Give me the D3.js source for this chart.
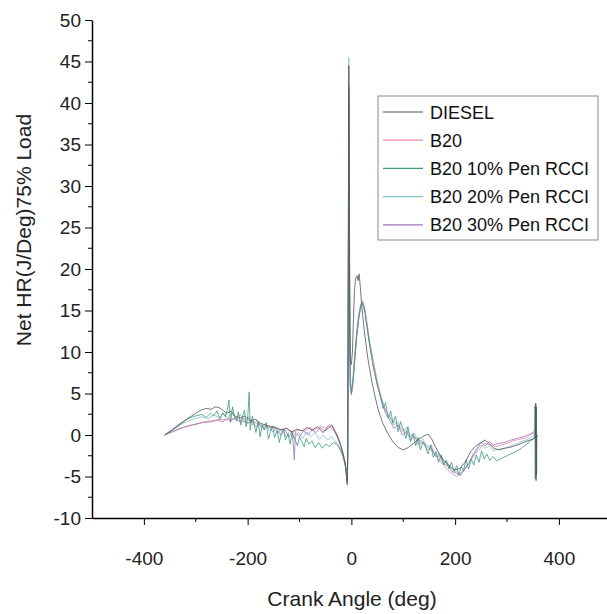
<!DOCTYPE html>
<html>
<head>
<meta charset="utf-8">
<script src="https://cdn.jsdelivr.net/npm/d3@7"></script>
<style>
  body { margin: 0; background: #fff; }
  svg { font-family: "Liberation Sans", Arial, sans-serif; }
</style>
</head>
<body>
<div id="chart"></div>
<script>
// series names and colours (legend order)
const seriesNames = ['DIESEL', 'B20', 'B20 10% Pen RCCI', 'B20 20% Pen RCCI', 'B20 30% Pen RCCI'];
const seriesColors = ['#555555', '#e58aa8', '#3f9a80', '#86c0cc', '#a46fbf'];

const xTicks = [-400, -200, 0, 200, 400];
const yTicks = [-10, -5, 0, 5, 10, 15, 20, 25, 30, 35, 40, 45, 50];

// [crank angle, net heat release]
const diesel = [
  [-360,0],[-345,0.6],[-330,1.3],[-315,2.0],[-300,2.6],[-290,3.0],[-280,3.2],[-270,3.1],[-262,3.4],[-255,3.3],
  [-248,3.0],[-240,2.6],[-232,2.9],[-225,2.3],[-215,2.0],[-205,2.3],[-195,1.7],[-185,1.9],[-175,1.4],[-165,1.2],
  [-155,1.0],[-145,0.9],[-135,0.6],[-125,0.8],[-115,0.4],[-105,0.7],[-95,0.5],[-85,0.9],[-75,0.6],[-65,1.0],
  [-55,0.3],[-45,0.8],[-38,1.2],[-32,0.5],[-26,-0.4],[-20,-1.4],[-15,-2.6],[-11,-3.8],[-8,-6.0],[-7,-2],
  [-6,20],[-5,44.5],[-4,32],[-3,14],[-2,9],[0,8.5],[2,10],[4,14],[6,17.5],[8,18.8],[11,19.2],[13,18.6],
  [15,19.4],[17,18],[20,15.5],[25,12.5],[30,10],[35,8],[40,6.3],[45,4.8],[52,3],[60,1.5],[70,0.2],[80,-0.8],
  [90,-1.5],[100,-1.8],[110,-1.5],[120,-1.0],[130,-0.5],[140,-0.1],[148,0.1],[155,-0.5],[162,-1.4],[170,-2.4],
  [180,-3.2],[190,-3.8],[200,-4.2],[210,-4.0],[220,-3.2],[230,-2.0],[240,-1.3],[250,-0.9],[258,-0.6],[265,-1.0],
  [275,-1.6],[285,-1.8],[295,-1.6],[305,-1.5],[315,-1.3],[325,-1.1],[335,-0.8],[345,-0.6],[353,-0.4],[355,-0.2],
  [355.5,3.8],[356,-5.5],[356.5,3.4],[357,-4.8],[357.5,0],[358,-0.2]
];

const b20 = [
  [-360,0],[-340,0.5],[-320,1.0],[-300,1.3],[-285,1.6],[-270,1.7],[-255,1.9],[-240,1.8],[-228,2.0],[-215,1.7],
  [-200,1.5],[-188,1.6],[-175,1.2],[-162,1.0],[-150,0.9],[-138,0.6],[-126,0.8],[-114,0.3],[-102,0.6],[-90,0.5],
  [-80,0.9],[-70,0.6],[-60,1.1],[-50,0.8],[-42,1.3],[-35,0.9],[-28,0.2],[-22,-0.8],[-16,-2.2],[-12,-3.3],
  [-9,-5.2],[-7,-4],[-6,15],[-5,38],[-4,25],[-3,12],[-2,6],[0,4.8],[3,6],[6,8.5],[10,11.5],[14,13.8],
  [18,15.5],[22,16],[26,15],[30,13.5],[36,11],[42,9],[50,6.5],[58,4.5],[66,3],[75,2],[85,1.5],[95,0.8],
  [105,0.5],[115,0],[125,-0.4],[135,-0.8],[145,-1.2],[155,-1.8],[165,-2.6],[175,-3.4],[185,-4.2],[195,-4.7],
  [203,-5.0],[210,-4.6],[218,-4.2],[228,-3.2],[238,-2.4],[248,-1.6],[258,-1.0],[268,-1.2],[278,-1.4],[290,-1.2],
  [300,-1.0],[312,-0.7],[325,-0.5],[338,-0.3],[350,0.2],[358,0]
];

const pen10 = [
  [-360,0],[-345,0.7],[-330,1.4],[-315,2.0],[-300,2.3],[-288,2.5],[-280,2.1],[-272,2.6],[-266,2.3],[-259,2.9],
  [-253,1.9],[-248,2.7],[-243,2.2],[-239,3.1],[-236,4.2],[-233,1.5],[-229,3.4],[-226,2.4],[-221,1.7],[-218,2.8],
  [-213,1.2],[-210,2.2],[-206,3.0],[-203,1.0],[-200,1.9],[-197,5.2],[-195,0.6],[-191,2.3],[-187,1.1],[-184,0.3],
  [-180,1.6],[-176,-0.2],[-172,1.2],[-168,0.6],[-164,1.5],[-160,-0.5],[-156,0.4],[-152,1.1],[-148,-0.3],[-143,0.5],
  [-139,-0.9],[-135,0.2],[-131,0.7],[-127,-0.6],[-122,0.1],[-118,-1.1],[-114,0.3],[-109,-0.5],[-104,-1.3],[-100,-0.2],
  [-96,-0.8],[-91,-1.4],[-87,-0.4],[-82,-1.1],[-76,-0.7],[-70,-1.5],[-63,-0.9],[-56,-1.6],[-49,-1.1],[-42,-1.4],
  [-35,-0.9],[-28,-1.1],[-21,-1.8],[-15,-2.8],[-11,-4.0],[-8,-5.5],[-7,-2],[-6,14],[-5,38],[-4.5,42],
  [-4,26],[-3,10],[-2,6],[0,5],[3,6.5],[6,9],[10,12],[14,14.2],[18,15.6],[22,15.8],[26,14.8],[30,13],[36,10.5],
  [42,8.3],[50,6],[56,4.6],[61,3.2],[66,3.9],[71,2.0],[76,2.9],[80,1.4],[85,2.3],[90,0.4],[95,1.6],[100,0.7],
  [105,-0.4],[109,1.0],[114,-0.8],[119,0.2],[124,-1.3],[129,-0.3],[133,-1.8],[138,-0.9],[143,-1.4],[148,-2.3],
  [153,-1.2],[158,-2.7],[163,-2.0],[168,-3.3],[173,-2.4],[178,-3.6],[183,-3.0],[188,-4.1],[193,-3.3],[198,-4.4],
  [203,-3.7],[207,-4.8],[212,-3.8],[216,-4.3],[221,-3.0],[226,-4.1],[231,-2.9],[236,-3.6],[241,-2.4],[246,-3.3],
  [251,-1.9],[256,-2.9],[261,-2.3],[267,-3.1],[273,-2.6],[280,-3.1],[290,-2.8],[300,-2.5],[310,-2.2],[320,-1.9],
  [330,-1.5],[340,-1.0],[348,-0.6],[353,-0.4],[354,3.5],[354.5,-5.3],[355,3.8],[355.5,-5.0],[356,0],[358,-0.2]
];

const pen20 = [
  [-360,0],[-345,0.6],[-330,1.2],[-315,1.7],[-300,2.0],[-288,2.2],[-276,2.0],[-265,2.4],[-255,2.1],[-246,2.6],
  [-238,2.0],[-230,2.7],[-222,1.8],[-214,2.5],[-206,1.5],[-198,2.2],[-190,1.2],[-182,1.8],[-174,0.8],[-166,1.4],
  [-158,0.5],[-150,1.1],[-142,0.2],[-134,0.8],[-126,-0.2],[-118,0.6],[-110,-0.5],[-102,0.3],[-94,-0.4],[-86,0.4],
  [-78,-0.2],[-70,0.3],[-62,-0.5],[-54,0],[-46,-0.6],[-38,-0.2],[-30,-0.8],[-22,-1.5],[-16,-2.5],[-11,-3.8],
  [-8,-5.8],[-7,-3],[-6,18],[-5,45.5],[-4,30],[-3,13],[-2,7],[0,5.5],[3,6.8],[6,9.2],[10,12.3],[14,14.4],
  [18,15.8],[22,16.2],[26,15.2],[30,13.4],[36,10.8],[42,8.6],[50,6.2],[58,4.3],[66,2.9],[74,2.2],[82,1.2],
  [90,1.6],[98,0.4],[106,0.9],[114,-0.2],[122,0.2],[130,-0.9],[138,-0.5],[146,-1.5],[154,-1.2],[162,-2.4],
  [170,-2.2],[178,-3.2],[186,-3.4],[194,-4.2],[202,-4.4],[210,-4.8],[218,-4.0],[226,-3.4],[234,-2.6],[242,-1.8],
  [250,-1.2],[258,-1.6],[266,-1.3],[274,-1.9],[284,-1.7],[296,-1.6],[308,-1.3],[320,-1.0],[332,-0.7],[344,-0.4],
  [352,-0.1],[358,0]
];

const pen30 = [
  [-360,0],[-345,0.4],[-330,0.8],[-315,1.1],[-300,1.3],[-285,1.5],[-270,1.6],[-258,1.8],[-248,1.6],[-240,2.0],
  [-232,1.7],[-224,2.1],[-216,1.6],[-208,2.0],[-200,1.4],[-192,1.7],[-184,1.0],[-176,1.4],[-168,0.7],[-160,1.1],
  [-152,0.4],[-144,0.8],[-136,0],[-128,0.6],[-120,-0.2],[-114,0.5],[-110,-3.0],[-108,0.3],[-100,-0.2],[-92,0.5],
  [-84,0],[-76,0.6],[-68,0.3],[-60,0.9],[-52,0.5],[-44,1.1],[-36,0.7],[-28,0],[-22,-0.9],[-16,-2.3],[-11,-3.6],
  [-8,-5.6],[-7,-3],[-6,16],[-5,41],[-4,27],[-3,11],[-2,6],[0,5],[3,6.3],[6,8.8],[10,11.8],[14,14],[18,15.4],
  [22,15.9],[26,15],[30,13.2],[36,10.6],[42,8.4],[50,6],[58,4.2],[66,2.6],[74,1.8],[82,0.8],[90,1.2],[98,0],
  [106,0.4],[114,-0.6],[122,-0.2],[130,-1.2],[138,-0.8],[146,-1.8],[154,-1.5],[162,-2.6],[170,-2.5],[178,-3.5],
  [186,-3.7],[194,-4.4],[202,-4.6],[210,-4.9],[218,-4.2],[226,-3.5],[234,-2.4],[242,-1.6],[250,-0.9],[258,-1.3],
  [266,-0.8],[274,-1.2],[284,-1.0],[296,-0.9],[308,-0.6],[320,-0.4],[332,-0.2],[344,0.1],[352,0.4],[358,0]
];

const seriesData = [diesel, b20, pen10, pen20, pen30];

const W = 607, H = 614;
const svg = d3.select('#chart').append('svg').attr('width', W).attr('height', H);

const x = d3.scaleLinear().domain([-500, 500]).range([92, 610.75]);
const y = d3.scaleLinear().domain([-10, 50]).range([518, 20]);

// lines (drawn back to front so diesel ends on top)
const line = d3.line().x(d => x(d[0])).y(d => y(d[1]));
const drawOrder = [1, 3, 4, 2, 0];
drawOrder.forEach(i => {
  svg.append('path')
    .datum(seriesData[i])
    .attr('fill', 'none')
    .attr('stroke', seriesColors[i])
    .attr('stroke-width', 1)
    .attr('stroke-opacity', 0.8)
    .attr('stroke-linejoin', 'round')
    .attr('d', line);
});

// axes
const fmt = d => String(d);
const yAxis = svg.append('g').attr('transform', `translate(${x(-500)},0)`)
  .call(d3.axisLeft(y).tickValues(yTicks).tickFormat(fmt).tickSize(7).tickSizeOuter(0).tickPadding(4));
const xAxis = svg.append('g').attr('transform', `translate(0,${y(-10)})`)
  .call(d3.axisBottom(x).tickValues(xTicks).tickFormat(fmt).tickSize(7).tickSizeOuter(0).tickPadding(27));

// minor ticks
const yMinor = d3.range(-7.5, 50, 5);
const xMinor = [-300, -100, 100, 300];
yAxis.selectAll('.minor').data(yMinor).enter().append('line')
  .attr('x1', 0).attr('x2', -4).attr('y1', d => y(d)).attr('y2', d => y(d))
  .attr('stroke', '#000');
xAxis.selectAll('.minor').data(xMinor).enter().append('line')
  .attr('y1', 0).attr('y2', 4).attr('x1', d => x(d)).attr('x2', d => x(d))
  .attr('stroke', '#000');

[yAxis, xAxis].forEach(a => {
  a.select('.domain').attr('stroke', '#000').attr('stroke-width', 1.5);
  a.selectAll('.tick line').attr('stroke', '#000');
  a.selectAll('.tick text').attr('font-size', 19).attr('fill', '#222')
    .attr('font-family', '"Liberation Sans", Arial, sans-serif');
});

// axis titles
svg.append('text')
  .attr('x', 352).attr('y', 606)
  .attr('text-anchor', 'middle')
  .attr('font-size', 21).attr('fill', '#222')
  .text('Crank Angle (deg)');

svg.append('text')
  .attr('transform', 'translate(31,230) rotate(-90)')
  .attr('text-anchor', 'middle')
  .attr('font-size', 21).attr('fill', '#222')
  .text('Net HR(J/Deg)75% Load');

// legend
const legend = svg.append('g');
legend.append('rect')
  .attr('x', 378).attr('y', 96).attr('width', 220).attr('height', 144)
  .attr('fill', '#fff').attr('stroke', '#8a8a8a').attr('stroke-width', 1);

seriesNames.forEach((name, i) => {
  const ly = 112 + i * 28.2;
  legend.append('line')
    .attr('x1', 383).attr('x2', 423).attr('y1', ly).attr('y2', ly)
    .attr('stroke', seriesColors[i]).attr('stroke-width', 1.2);
  legend.append('text')
    .attr('x', 430).attr('y', ly + 6.5)
    .attr('font-size', 18).attr('fill', '#111')
    .text(name);
});
</script>
</body>
</html>
